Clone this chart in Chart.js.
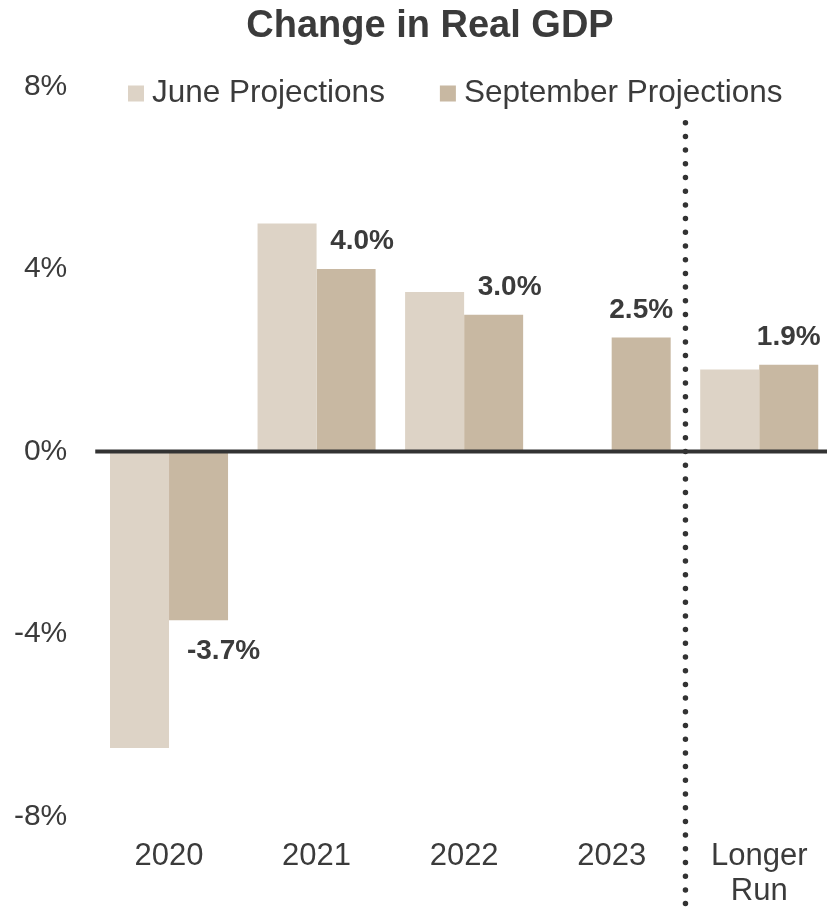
<!DOCTYPE html>
<html>
<head>
<meta charset="utf-8">
<script src="https://cdn.jsdelivr.net/npm/chart.js@4/dist/chart.umd.min.js"></script>
<style>
html,body{margin:0;padding:0;background:#fff;overflow:hidden;}
#wrap{width:833px;height:908px;}
</style>
</head>
<body>
<div id="wrap"><canvas id="c" width="833" height="908"></canvas></div>
<script>
// ---- data ----
const categories = ['2020', '2021', '2022', '2023', ['Longer', 'Run']];
const juneProjections = [-6.5, 5.0, 3.5, null, 1.8];
const septemberProjections = [-3.7, 4.0, 3.0, 2.5, 1.9];
const seriesNames = ['June Projections', 'September Projections'];
const yTicks = [-8, -4, 0, 4, 8];
const chartTitle = 'Change in Real GDP';

// ---- styles ----
const FONT = '"Liberation Sans", Arial, Helvetica, sans-serif';
const TEXT = '#3b3b3b';
const JUNE_COLOR = '#ddd3c6';
const SEPT_COLOR = '#c8b8a2';
const labelShift = [25, 16, 16, 0, 0];

const overlayPlugin = {
  id: 'overlay',
  afterDatasetsDraw(chart) {
    const ctx = chart.ctx;
    const ca = chart.chartArea;
    const x = chart.scales.x, y = chart.scales.y;
    ctx.save();
    // title
    ctx.fillStyle = TEXT;
    ctx.font = 'bold 38px ' + FONT;
    ctx.textAlign = 'center';
    ctx.textBaseline = 'middle';
    ctx.fillText(chartTitle, 430, 27);
    // zero line
    const y0 = y.getPixelForValue(0);
    ctx.strokeStyle = '#333333';
    ctx.lineWidth = 4;
    ctx.beginPath();
    ctx.moveTo(ca.left, y0);
    ctx.lineTo(chart.width, y0);
    ctx.stroke();
    // dotted divider between 2023 and Longer Run
    const xd = x.getPixelForValue(3.5);
    ctx.strokeStyle = '#333333';
    ctx.lineWidth = 5.5;
    ctx.lineCap = 'round';
    ctx.setLineDash([0, 13.7]);
    ctx.beginPath();
    ctx.moveTo(xd, ca.top + 36);
    ctx.lineTo(xd, chart.height - 2);
    ctx.stroke();
    ctx.setLineDash([]);
    // data labels for September series
    const meta = chart.getDatasetMeta(1);
    ctx.fillStyle = TEXT;
    ctx.font = 'bold 28px ' + FONT;
    ctx.textAlign = 'center';
    ctx.textBaseline = 'middle';
    meta.data.forEach((bar, i) => {
      const v = septemberProjections[i];
      if (v === null) return;
      const ty = v >= 0 ? bar.y - 27.5 : bar.y + 31;
      ctx.fillText(v.toFixed(1) + '%', bar.x + labelShift[i], ty);
    });
    // legend
    ctx.font = '31.5px ' + FONT;
    ctx.textAlign = 'left';
    let lx = 128;
    const ly = 93.5;
    chart.data.datasets.forEach((ds, i) => {
      ctx.fillStyle = ds.backgroundColor;
      ctx.fillRect(lx, ly - 8, 16, 16);
      ctx.fillStyle = TEXT;
      ctx.fillText(ds.label, lx + 24, ly);
      lx += 24 + ctx.measureText(ds.label).width + 55;
    });
    ctx.restore();
  }
};

new Chart(document.getElementById('c'), {
  type: 'bar',
  data: {
    labels: categories,
    datasets: [
      { label: seriesNames[0], data: juneProjections, backgroundColor: JUNE_COLOR },
      { label: seriesNames[1], data: septemberProjections, backgroundColor: SEPT_COLOR }
    ]
  },
  options: {
    responsive: false,
    animation: false,
    devicePixelRatio: 1,
    layout: { padding: { left: 0, right: 0, top: 86.7, bottom: 0 } },
    datasets: { bar: { categoryPercentage: 0.8, barPercentage: 1.0 } },
    plugins: {
      legend: { display: false },
      tooltip: { enabled: false },
      title: { display: false }
    },
    scales: {
      x: {
        grid: { display: false, drawTicks: false },
        border: { display: false },
        ticks: {
          color: TEXT,
          font: { family: FONT, size: 31, lineHeight: 1.13 },
          padding: 23,
          maxRotation: 0,
          autoSkip: false
        },
        afterFit(scale) { scale.height = 91.7; }
      },
      y: {
        min: -8,
        max: 8,
        grid: { display: false, drawTicks: false },
        border: { display: false },
        afterBuildTicks(scale) { scale.ticks = yTicks.map(v => ({ value: v })); },
        ticks: {
          color: TEXT,
          font: { family: FONT, size: 30 },
          padding: 28,
          callback: v => v + '%'
        },
        afterFit(scale) { scale.width = 95.25; }
      }
    }
  },
  plugins: [overlayPlugin]
});
</script>
</body>
</html>
